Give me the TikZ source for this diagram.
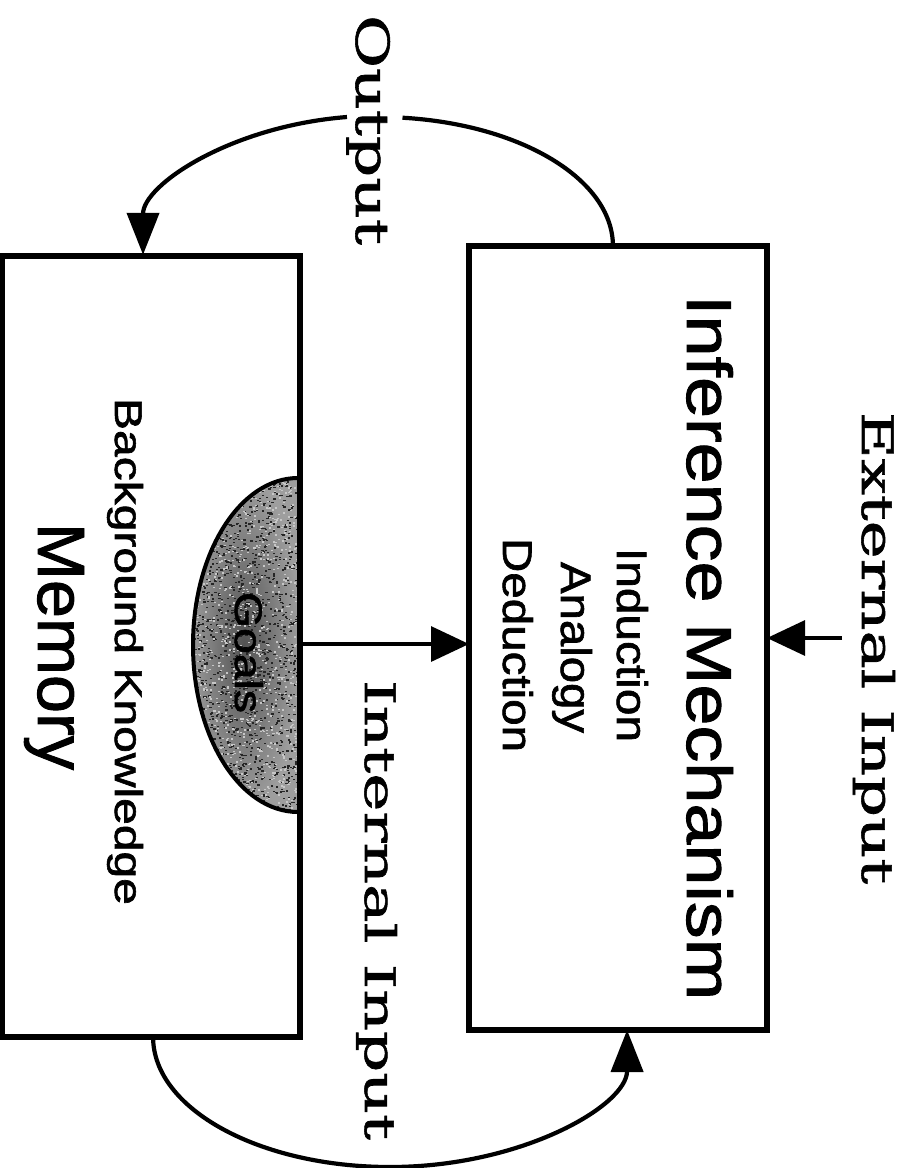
\documentclass[tikz,border=0pt]{standalone}
\usepackage{fontspec}
\usepackage{graphicx}
\usetikzlibrary{arrows.meta,calc}
\newfontfamily\labelserif[FakeBold=1.2]{DejaVu Serif}
\newfontfamily\boxsans[FakeBold=1.4]{Liberation Sans}
% set a label to a given length and letter height
\newcommand{\fitlabel}[3]{\resizebox{#1pt}{#2pt}{#3}}

\tikzset{
  unitbox/.style={draw, line width=5.5pt, inner sep=0pt, outer sep=0pt,
                  minimum width=298pt},
  vlabel/.style={rotate=-90, anchor=base west, inner sep=0pt, outer sep=0pt},
  flowline/.style={line width=4.2pt},
  bigtip/.style={-{Triangle[length=42pt,width=32pt]}},
  straight/.style={line width=3.2pt, -{Triangle[length=38pt,width=35pt]}},
}

\begin{document}
\begin{tikzpicture}[x=1pt,y=1pt]
\useasboundingbox (0,0) rectangle (910,-1168);
\fill[white] (0,0) rectangle (910,-1168);

% the two units
\node[unitbox, minimum height=781pt] (mem) at (151,-646.5) {};
\node[unitbox, minimum height=784pt] (inf) at (618,-638) {};

% goals: half ellipse on the right side of the memory unit
\coordinate (gc) at (298,-644);
\begin{scope}
  \clip (298,-478) arc[start angle=90,end angle=270,x radius=105,y radius=167] -- cycle;
  \shade[inner color=black!68, outer color=black!38] (188,-474) rectangle (300,-816);
  \pgfmathsetseed{31}
  \foreach \k in {1,...,1500}{
    \pgfmathsetmacro\gx{190+110*rnd}
    \pgfmathsetmacro\gy{-476-338*rnd}
    \fill[black!85] (\gx,\gy) rectangle ++(2.2,1.4);
  }
  \foreach \k in {1,...,1100}{
    \pgfmathsetmacro\gx{190+110*rnd}
    \pgfmathsetmacro\gy{-476-338*rnd}
    \fill[white!78!black] (\gx,\gy) rectangle ++(2,1.4);
  }
\end{scope}
\draw[line width=4pt] (298,-478) arc[start angle=90,end angle=270,x radius=105,y radius=167];
\draw[line width=5.5pt] (mem.north east) -- (mem.south east);

% texts of the memory unit
\node[vlabel] (goals) at (235,-592) {\fitlabel{121}{28}{\boxsans Goals}};
\node[vlabel] (bk) at (115,-398) {\fitlabel{507}{28}{\boxsans Background Knowledge}};
\node[vlabel] (memlabel) at (38,-523) {\fitlabel{247}{46}{\boxsans Memory}};

% texts of the inference unit
\node[vlabel] (inflabel) at (687,-295) {\fitlabel{705}{46}{\boxsans Inference Mechanism}};
\node[vlabel] (ind) at (617,-548) {\fitlabel{194}{31}{\boxsans Induction}};
\node[vlabel] (ana) at (561,-562) {\fitlabel{171}{31}{\boxsans Analogy}};
\node[vlabel] (ded) at (503,-538) {\fitlabel{214}{30}{\boxsans Deduction}};

% serif labels of the flows
\node[vlabel] (outlabel) at (356,-15) {\fitlabel{230}{34}{\labelserif Output}};
\node[vlabel] (extlabel) at (862,-412) {\fitlabel{472}{33}{\labelserif External Input}};
\node[vlabel] (intlabel) at (365,-680) {\fitlabel{460}{32}{\labelserif Internal Input}};

% output: from the inference unit back to memory, broken for its label
\coordinate (outA) at ($(inf.north west)!0.483!(inf.north east)$);
\coordinate (outB) at ($(mem.north west)!0.473!(mem.north east)$);
\draw[flowline] (outA) arc[start angle=0,end angle=84,x radius=235,y radius=129];
\draw[flowline, bigtip] ($(outB)+(204,139)$) arc[start angle=97.6,end angle=180,x radius=235,y radius=139];

% internal input: from memory round to the inference unit
\coordinate (inA) at ($(mem.south west)!0.507!(mem.south east)$);
\coordinate (inB) at ($(inf.south west)!0.53!(inf.south east)$);
\draw[flowline, bigtip] (inA)
  arc[start angle=180,end angle=270,x radius=237,y radius=130]
  arc[start angle=270,end angle=360,x radius=237,y radius=137];

% goals feed the inference unit
\draw[straight] (gc) -- (gc -| inf.west);

% external input
\coordinate (ext) at (842,-638);
\draw[straight] (ext) -- (ext -| inf.east);
\end{tikzpicture}
\end{document}
